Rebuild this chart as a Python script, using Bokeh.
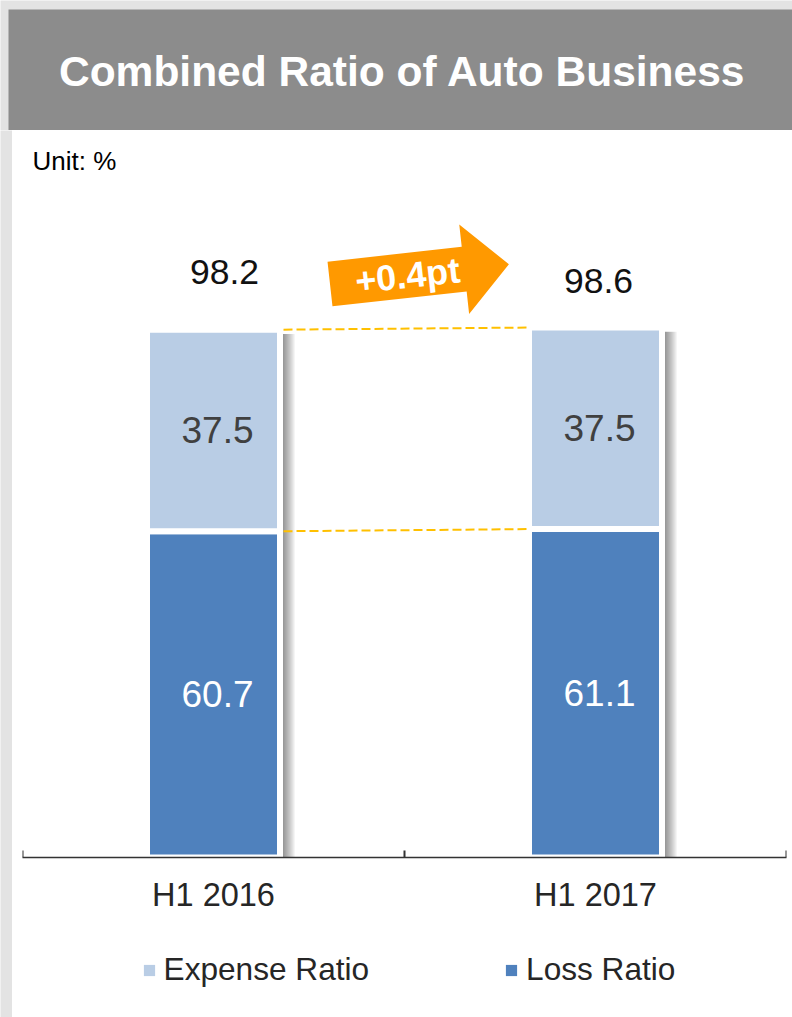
import math
from bokeh.plotting import figure
from bokeh.models import (FactorRange, Range1d, CategoricalAxis,
                          ColumnDataSource, Legend, LegendItem)
from bokeh.layouts import column, row
from bokeh.core.properties import value
from bokeh.transform import dodge
from bokeh.embed import file_html
from bokeh.resources import INLINE

# ---------------- data ----------------
periods = ["H1 2016", "H1 2017"]
loss_ratio = [60.7, 61.1]
expense_ratio = [37.5, 37.5]
combined_ratio = [98.2, 98.6]
series_names = ["Expense Ratio", "Loss Ratio"]
change_label = "+0.4pt"
title_text = "Combined Ratio of Auto Business"
unit_text = "Unit: %"

# ---------------- styles ----------------
FONT = "Liberation Sans"
C_EXP = "#B9CDE5"
C_LOSS = "#4F81BD"
C_BANNER = "#8C8C8C"
C_OUTER = "#E3E3E3"
C_ARROW = "#FF9900"
C_DASH = "#FFC000"
C_AXIS = "#333333"
PX_X = 382.0          # pixels per category unit
PX_Y = 5.375          # pixels per percentage point
FRAME_H = 727
BAR_W = 133 / PX_X


def bare(fig):
    fig.grid.visible = False
    return fig


# ---------------- banner ----------------
banner = bare(figure(width=792, height=130, x_range=Range1d(0, 792), y_range=Range1d(0, 130),
                     output_backend="svg", toolbar_location=None,
                     x_axis_location=None, y_axis_location=None,
                     background_fill_color=C_OUTER, border_fill_color=C_OUTER,
                     outline_line_color=None, min_border=0))
banner.quad(left=[8], right=[792], bottom=[0], top=[121], fill_color=C_BANNER, line_color=None)
banner.text(x=[402], y=[59.5], text=[title_text], text_font=value(FONT),
            text_font_size="42.5px", text_font_style="bold", text_color="white",
            text_align="center", text_baseline="middle")

# ---------------- left strip ----------------
strip = bare(figure(width=12, height=887, x_range=Range1d(0, 1), y_range=Range1d(0, 1),
                    output_backend="svg", toolbar_location=None,
                    x_axis_location=None, y_axis_location=None,
                    background_fill_color=C_OUTER, border_fill_color=C_OUTER,
                    outline_line_color=None, min_border=0))

# ---------------- main chart ----------------
p = bare(figure(width=780, height=797, x_range=FactorRange(*periods, range_padding=0),
                y_range=Range1d(0, FRAME_H / PX_Y),
                output_backend="svg", toolbar_location=None,
                x_axis_location=None, y_axis_location=None,
                background_fill_color="white", border_fill_color="white",
                outline_line_color=None,
                min_border_left=10, min_border_right=6, min_border_top=0, min_border_bottom=70))

totals = [l + e for l, e in zip(loss_ratio, expense_ratio)]
src = ColumnDataSource(dict(
    period=periods, loss=loss_ratio, expense=expense_ratio, total=totals,
    shadow_top=[t - 0.8 for t in totals],
    backing_top=[t + 2 / PX_Y for t in totals],
))

# drop shadow (soft, layered)
for i in range(1, 14):
    p.vbar(x=dodge("period", i / PX_X, range=p.x_range), width=BAR_W + 4 / PX_X,
           bottom=0, top="shadow_top", source=src,
           fill_color="black", fill_alpha=0.04, line_color=None)
# white backing
p.vbar(x="period", width=BAR_W + 4 / PX_X, bottom=0, top="backing_top", source=src,
       fill_color="white", line_color=None)
# stacked bars
p.vbar(x="period", width=BAR_W, bottom=0, top="loss", source=src,
       fill_color=C_LOSS, line_color="white", line_width=6)
p.vbar(x="period", width=BAR_W, bottom="loss", top="total", source=src,
       fill_color=C_EXP, line_color="white", line_width=6)

# dashed connectors
conn = ColumnDataSource(dict(
    a=[periods[0], periods[0]], b=[periods[1], periods[1]],
    y0=[combined_ratio[0], loss_ratio[0]], y1=[combined_ratio[1], loss_ratio[1]],
))
p.segment(x0=dodge("a", 70 / PX_X, range=p.x_range), y0="y0",
          x1=dodge("b", -65 / PX_X, range=p.x_range), y1="y1", source=conn,
          line_color=C_DASH, line_width=2, line_dash="9 4")

# value labels
idx = [i + 0.5 for i in range(len(periods))]
top_dx = [11, 3]
top_dy = [58, 47]
p.text(x=[c + dx / PX_X for c, dx in zip(idx, top_dx)],
       y=[t + dy / PX_Y for t, dy in zip(combined_ratio, top_dy)],
       text=[f"{v:.1f}" for v in combined_ratio], text_font=value(FONT),
       text_font_size="35.5px", text_color="#111111",
       text_align="center", text_baseline="middle")
p.text(x=[c + 4 / PX_X for c in idx],
       y=[l + e / 2 for l, e in zip(loss_ratio, expense_ratio)],
       text=[f"{v:.1f}" for v in expense_ratio], text_font=value(FONT),
       text_font_size="37px", text_color="#404040",
       text_align="center", text_baseline="middle")
p.text(x=[c + 4 / PX_X for c in idx],
       y=[l / 2 for l in loss_ratio],
       text=[f"{v:.1f}" for v in loss_ratio], text_font=value(FONT),
       text_font_size="37px", text_color="white",
       text_align="center", text_baseline="middle")

# unit label
p.text(x=[10 / PX_X], y=[697 / PX_Y], text=[unit_text], text_font=value(FONT),
       text_font_size="26px", text_color="black", text_align="left", text_baseline="middle")

# change arrow
theta = math.radians(6.3)
ox, oy = 307.5 / PX_X, 573.5 / PX_Y
shape = [(0, 22.5), (135, 22.5), (135, 45), (180, 0), (135, -45), (135, -22.5), (0, -22.5)]


def to_data(u, v):
    dx = u * math.cos(theta) - v * math.sin(theta)
    dy = u * math.sin(theta) + v * math.cos(theta)
    return ox + dx / PX_X, oy + dy / PX_Y


pts = [to_data(u, v) for u, v in shape]
p.patch(x=[q[0] for q in pts], y=[q[1] for q in pts], fill_color=C_ARROW, line_color=None)
tx, ty = to_data(78, 0)
p.text(x=[tx], y=[ty], text=[change_label], angle=theta, text_font=value(FONT),
       text_font_size="36px", text_font_style="bold", text_color="white",
       text_align="center", text_baseline="middle")

# category boundary ticks (pointing up from the axis line)
bounds = list(range(len(periods) + 1))
p.segment(x0=bounds, y0=[0] * len(bounds), x1=bounds, y1=[7 / PX_Y] * len(bounds),
          line_color=C_AXIS, line_width=2)

# axis
cat_axis = CategoricalAxis(axis_line_color=C_AXIS, axis_line_width=1.5,
                           major_tick_line_color=None,
                           minor_tick_line_color=None, major_tick_in=0, major_tick_out=0,
                           major_label_text_font=FONT, major_label_text_font_size="32.5px",
                           major_label_text_color="#262626", major_label_standoff=19)
p.add_layout(cat_axis, "below")

# ---------------- legend ----------------
lg = bare(figure(width=780, height=90, x_range=Range1d(0, 1), y_range=Range1d(0, 1),
                 output_backend="svg", toolbar_location=None,
                 x_axis_location=None, y_axis_location=None,
                 background_fill_color="white", border_fill_color="white",
                 outline_line_color=None, min_border=0))
r_exp = lg.vbar(x=[-5], bottom=[0], top=[0], width=0.1, fill_color=C_EXP, line_color=None)
r_loss = lg.vbar(x=[-5], bottom=[0], top=[0], width=0.1, fill_color=C_LOSS, line_color=None)
legend = Legend(items=[LegendItem(label=series_names[0], renderers=[r_exp]),
                       LegendItem(label=series_names[1], renderers=[r_loss])],
                orientation="horizontal", location=(119.6, 29),
                glyph_width=14, glyph_height=14, label_standoff=8, spacing=135,
                padding=0, margin=0, border_line_color=None, background_fill_alpha=0,
                label_text_font=FONT, label_text_font_size="31.6px",
                label_text_color="#262626")
lg.add_layout(legend)

layout = column(banner, row(strip, column(p, lg, spacing=0), spacing=0), spacing=0)
open("out.html", "w").write(file_html(layout, INLINE))
